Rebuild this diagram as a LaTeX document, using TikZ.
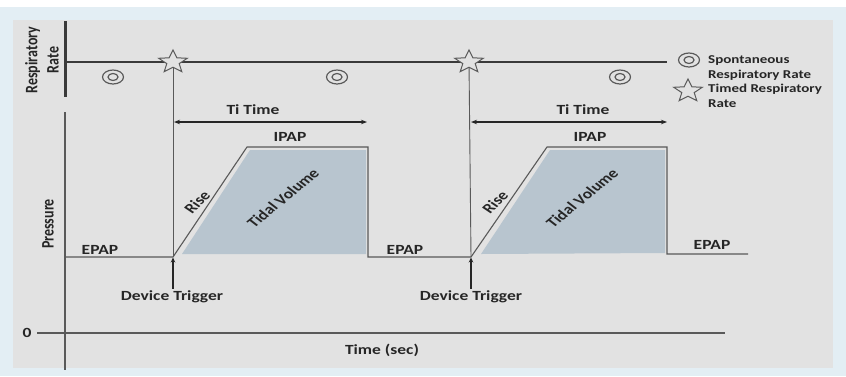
\documentclass[tikz,border=0pt]{standalone}
\usepackage{fontspec}
\setmainfont{Carlito}[FakeStretch=1.25]
\newfontfamily\uprightfont{Carlito}
\usetikzlibrary{shapes.geometric,arrows.meta}
\definecolor{outerbg}{HTML}{E3EEF4}
\definecolor{panelbg}{HTML}{E2E2E2}
\definecolor{volfill}{HTML}{B8C5CF}
\definecolor{ink}{HTML}{262626}
\definecolor{trace}{HTML}{595959}
\definecolor{axisgray}{HTML}{3A3A3A}

\begin{document}
\begin{tikzpicture}[x=1pt,y=-1pt,
  lbl/.style={font=\bfseries\fontsize{14}{16}\selectfont, text=ink, inner sep=0pt},
  leg/.style={font=\bfseries\fontsize{12}{14.5}\selectfont, text=ink, inner sep=0pt, align=left, anchor=west},
  turned/.style={font=\uprightfont\bfseries\fontsize{14}{17}\selectfont, text=ink, inner sep=0pt,
                 align=center, xscale=1.25, rotate=#1},
  wave/.style={draw=trace, line width=1.1pt, line join=miter},
  guide/.style={draw=trace, line width=0.9pt},
  ringout/.style={ellipse, draw=trace, line width=1.2pt, minimum width=21pt, minimum height=14pt, inner sep=0pt},
  ringin/.style={ellipse, draw=trace, line width=1.2pt, minimum width=10pt, minimum height=7pt, inner sep=0pt},
  timedstar/.style={star, star points=5, star point ratio=2.3, draw=trace, fill=panelbg,
                    line width=1pt, minimum size=24pt, inner sep=0pt, xscale=1.25},
  tiarrow/.style={draw=ink, line width=1.4pt, {Stealth[length=6pt,width=4.5pt]}-{Stealth[length=6pt,width=4.5pt]}},
  trig/.style={draw=ink, line width=1.7pt, -{Stealth[length=5pt,width=4.5pt]}, shorten <=2pt, shorten >=0.5pt},
]
\useasboundingbox (0,0) rectangle (846,376);

% backdrop and panel
\fill[white] (0,0) rectangle (846,376);
\fill[outerbg] (0,7) rectangle (846,376);
\fill[panelbg] (13,20) rectangle (833,368);

% tidal volume areas
\fill[volfill] (182,254) -- (250,150) -- (366,150) -- (366,254) -- cycle;
\fill[volfill] (481,254) -- (550,150) -- (665,150) -- (665,253) -- cycle;

% axes
\draw[draw=axisgray, line width=3pt] (65,21) -- (65,97);
\draw[draw=axisgray, line width=1.8pt] (65,62) -- (667,62);
\draw[draw=trace, line width=1.1pt] (65,112) -- (65,370);
\node[lbl] (zero) at (27,333) {0};
\coordinate (zl) at (37,333);
\coordinate (zr) at (725,333);
\draw[draw=trace, line width=2pt] (zl) -- (zr);
\node[lbl] (tlabel) at (382,350) {Time (sec)};
\node[turned=90] (rlabel) at (42,60) {Respiratory\\Rate};
\node[turned=90] (plabel) at (48,224) {Pressure};

% pressure waveform
\coordinate (e0) at (65,257);
\coordinate (t1) at (173,257);
\coordinate (r1) at (247,147);
\coordinate (p1) at (368,147);
\coordinate (f1) at (368,257);
\coordinate (t2) at (471,257);
\coordinate (r2) at (547,147);
\coordinate (p2) at (667,147);
\coordinate (f2) at (667,254);
\coordinate (e3) at (748,254);
\draw[wave] (e0) -- (t1) -- (r1) -- (p1) -- (f1) -- (t2) -- (r2) -- (p2) -- (f2) -- (e3);

% timed breaths
\node[timedstar] (s1) at (173,62) {};
\node[timedstar] (s2) at (469,62) {};
\draw[guide] (s1) -- (t1);
\draw[guide] (s2) -- (t2);

% spontaneous breaths
\node[ringout] (c1) at (113,77) {};
\node[ringin] (c1i) at (c1) {};
\node[ringout] (c2) at (337,77) {};
\node[ringin] (c2i) at (c2) {};
\node[ringout] (c3) at (620,77) {};
\node[ringin] (c3i) at (c3) {};

% inspiratory time
\coordinate (ta1) at (174,122);
\coordinate (tb1) at (367,122);
\coordinate (ta2) at (471,122);
\coordinate (tb2) at (667,122);
\draw[tiarrow] (ta1) -- (tb1);
\draw[tiarrow] (ta2) -- (tb2);
\node[lbl] (ti1) at (253,110) {Ti Time};
\node[lbl] (ti2) at (583,110) {Ti Time};

% level labels
\node[lbl] (ipap1) at (290,137) {IPAP};
\node[lbl] (ipap2) at (590,137) {IPAP};
\node[lbl] (epap1) at (100,250) {EPAP};
\node[lbl] (epap2) at (405,250) {EPAP};
\node[lbl] (epap3) at (712,245) {EPAP};
\node[turned=50] (rise1) at (197,202) {Rise};
\node[turned=50] (rise2) at (495,202) {Rise};
\node[turned=46] (tv1) at (283,198) {Tidal Volume};
\node[turned=46] (tv2) at (582,198) {Tidal Volume};

% device triggers
\node[lbl] (dt1) at (172,297) {Device Trigger};
\node[lbl] (dt2) at (471,297) {Device Trigger};
\draw[trig] (dt1.north -| t1) -- (t1);
\draw[trig] (dt2.north -| t2) -- (t2);

% legend
\node[ringout] (l1) at (689,60) {};
\node[ringin] (l1i) at (l1) {};
\node[leg] (l1t) at (708,68) {Spontaneous\\Respiratory Rate};
\node[timedstar] (l2) at (688,91) {};
\node[leg] (l2t) at (708,96) {Timed Respiratory\\Rate};
\end{tikzpicture}
\end{document}
